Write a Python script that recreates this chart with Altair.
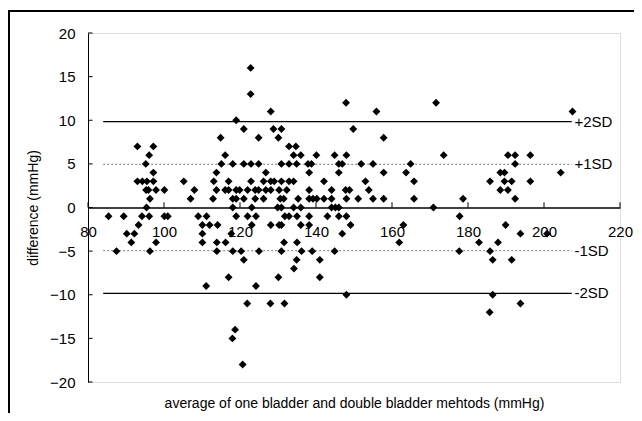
import altair as alt
import pandas as pd

# ---- data ----
diff_levels = [16, 13, 12, 11, 10, 9, 8, 7, 6, 5, 4, 3, 2, 1, 0, -1, -2, -3, -4, -5,
               -6, -7, -8, -9, -10, -11, -12, -14, -15, -18]
avg_rows = [
    [122.8],
    [122.8],
    [147.9, 171.6],
    [128.1, 155.9, 207.5],
    [119.0],
    [121.0, 128.8, 130.9, 149.8],
    [114.9, 124.9, 130.1, 157.8],
    [93.0, 97.2, 132.9, 134.7],
    [96.1, 116.1, 134.1, 136.0, 140.1, 144.9, 148.0, 173.6, 190.5, 192.4, 196.4],
    [95.2, 115.1, 118.1, 121.0, 122.9, 124.9, 130.9, 132.9, 134.9, 137.9, 138.8, 146.0,
     146.9, 151.9, 155.0, 164.9, 192.4],
    [97.2, 113.8, 126.8, 138.2, 146.0, 157.8, 163.7, 188.5, 189.6, 204.4],
    [93.0, 94.3, 95.5, 97.2, 105.2, 113.1, 117.0, 122.9, 126.2, 128.1, 129.0, 130.9,
     132.9, 134.1, 142.1, 153.0, 165.8, 185.8, 189.6, 191.5, 196.4],
    [95.3, 95.9, 97.9, 100.1, 108.0, 113.8, 116.1, 117.0, 119.0, 119.9, 122.0, 124.0,
     124.9, 126.8, 128.1, 130.3, 132.3, 138.2, 144.1, 147.8, 148.8, 153.9, 188.5, 190.5],
    [96.3, 107.0, 112.9, 118.1, 119.0, 121.0, 124.0, 126.2, 130.6, 131.5, 135.3, 138.2,
     139.2, 140.2, 142.1, 144.1, 148.0, 151.1, 155.0, 157.8, 165.8, 178.7, 192.4],
    [95.4, 118.1, 123.1, 129.9, 130.9, 134.1, 136.0, 144.1, 145.1, 146.0, 170.9],
    [85.4, 89.4, 94.2, 96.1, 100.1, 101.0, 109.0, 111.2, 119.0, 122.0, 124.2, 131.8,
     132.9, 135.0, 138.2, 143.0, 146.0, 148.0, 177.8],
    [93.3, 110.1, 112.0, 114.1, 123.1, 128.1, 130.3, 130.9, 136.0, 138.2, 149.1, 163.0, 189.9],
    [90.2, 92.2, 110.1, 117.7, 146.9, 193.8, 200.8],
    [91.4, 97.9, 110.1, 113.9, 116.2, 131.6, 135.0, 161.9, 182.9, 187.9],
    [87.5, 96.3, 113.9, 118.1, 120.3, 125.0, 130.9, 136.2, 139.0, 144.9, 177.7, 185.8],
    [121.0, 134.9, 141.0, 186.5, 191.5],
    [134.2],
    [117.0, 130.1, 141.0],
    [111.1, 124.2],
    [148.0, 186.5],
    [121.9, 128.0, 131.7, 193.8],
    [185.7],
    [118.7],
    [118.0],
    [120.7],
]

sd_values = [9.85, 4.95, -4.95, -9.85]
sd_labels = ["+2SD", "+1SD", "-1SD", "-2SD"]
sd_kind = ["2SD", "1SD", "1SD", "2SD"]
sd_start = 84
sd_end = 207.3
label_x = 208

x_ticks = [80, 100, 120, 140, 160, 180, 200, 220]
y_ticks = [20, 15, 10, 5, 0, -5, -10, -15, -20]

# ---- tables ----
pts = pd.DataFrame(
    [{"avg": a, "diff": d} for d, row in zip(diff_levels, avg_rows) for a in row]
)
sd_df = pd.DataFrame({"y": sd_values, "label": sd_labels, "kind": sd_kind,
                      "x0": sd_start, "x1": sd_end, "lx": label_x})
xt_df = pd.DataFrame({"x": x_ticks, "y0": 0.0, "y1": 0.6})
yt_df = pd.DataFrame({"y": y_ticks, "x0": 80.0, "x1": 81.2})

FONT = "Liberation Sans"
W, H = 532, 349

xscale = alt.Scale(domain=[80, 220], nice=False, zero=False)
yscale = alt.Scale(domain=[-20, 20], nice=False, zero=False)

points = alt.Chart(pts).mark_point(
    shape="diamond", filled=True, color="black", size=62, opacity=1
).encode(
    x=alt.X("avg:Q", scale=xscale,
            axis=alt.Axis(values=x_ticks, offset=-H / 2, ticks=False, grid=False,
                          domainColor="black", domainWidth=1.5,
                          labelFontSize=15, labelColor="black", labelFont=FONT,
                          labelPadding=24, labelBaseline="middle",
                          labelFlush=False, labelOverlap=False,
                          title="average of one bladder and double bladder mehtods (mmHg)",
                          titleFont=FONT, titleFontSize=14, titleFontWeight="normal",
                          titleColor="black", titleX=W / 2, titleY=196,
                          titleBaseline="middle", titleAlign="center")),
    y=alt.Y("diff:Q", scale=yscale,
            axis=alt.Axis(values=y_ticks, ticks=False, grid=False,
                          domainColor="black", domainWidth=1,
                          labelFontSize=15, labelColor="black", labelFont=FONT,
                          labelPadding=13, labelFlush=False, labelOverlap=False,
                          title="difference (mmHg)",
                          titleFont=FONT, titleFontSize=14, titleFontWeight="normal",
                          titleColor="black", titleX=-55, titleY=H / 2,
                          titleAngle=270, titleBaseline="middle", titleAlign="center")),
)

sd2 = alt.Chart(sd_df).transform_filter(alt.datum.kind == "2SD").mark_rule(
    color="black", strokeWidth=1.3
).encode(x=alt.X("x0:Q", scale=xscale), x2="x1:Q", y=alt.Y("y:Q", scale=yscale))

sd1 = alt.Chart(sd_df).transform_filter(alt.datum.kind == "1SD").mark_rule(
    color="#777777", strokeWidth=1, strokeDash=[2, 2]
).encode(x=alt.X("x0:Q", scale=xscale), x2="x1:Q", y=alt.Y("y:Q", scale=yscale))

sd_text = alt.Chart(sd_df).mark_text(
    align="left", baseline="middle", font=FONT, fontSize=15, color="black"
).encode(x=alt.X("lx:Q", scale=xscale), y=alt.Y("y:Q", scale=yscale), text="label:N")

xticks = alt.Chart(xt_df).mark_rule(color="black", strokeWidth=1).encode(
    x=alt.X("x:Q", scale=xscale), y=alt.Y("y0:Q", scale=yscale), y2="y1:Q")

yticks = alt.Chart(yt_df).mark_rule(color="black", strokeWidth=1).encode(
    y=alt.Y("y:Q", scale=yscale), x=alt.X("x0:Q", scale=xscale), x2="x1:Q")

# outer page frame (only top and left edges fall inside the picture)
frame_df = pd.DataFrame({"k": [0]})
frame = alt.Chart(frame_df).mark_rect(
    fill=None, stroke="black", strokeWidth=2
).encode(
    x=alt.value(-79), x2=alt.value(700), y=alt.value(-22), y2=alt.value(450))

chart = alt.layer(
    sd1, sd2, xticks, yticks, points, sd_text, frame
).properties(
    width=W, height=H,
    autosize=alt.AutoSizeParams(type="none"),
    padding={"left": 80, "top": 25, "right": 14, "bottom": 31},
).configure_view(
    stroke="#888888", strokeWidth=1, strokeDash=[1, 2]
).configure(background="white")

chart.save("out.html", embed_options={"renderer": "svg", "actions": False})
